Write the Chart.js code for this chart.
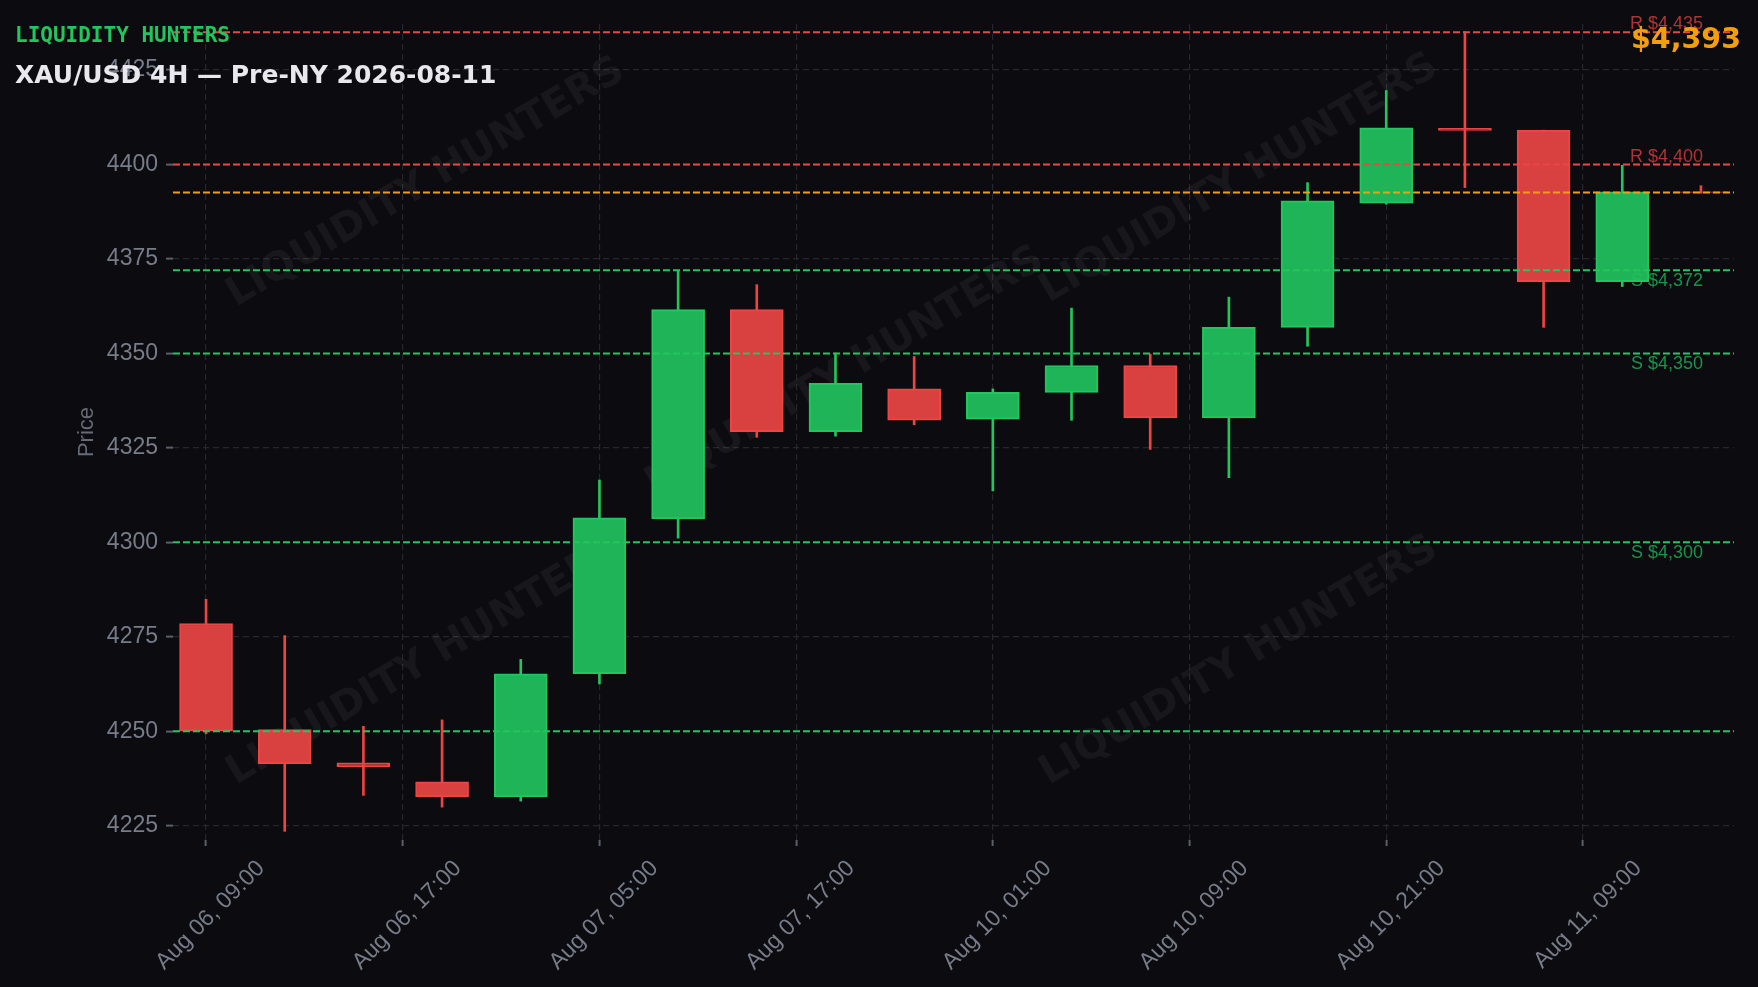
<!DOCTYPE html>
<html>
<head>
<meta charset="utf-8">
<title>XAU/USD 4H</title>
<script src="https://cdn.jsdelivr.net/npm/chart.js@4.4.1/dist/chart.umd.min.js"></script>
<style>
  html, body { margin: 0; padding: 0; background: #0b0b10; }
  canvas { display: block; }
</style>
</head>
<body>
<canvas id="grafico" width="1758" height="987"></canvas>
<script>
// Velas 4H (hora de abertura)
const candleTimes = [
    'Aug 06, 09:00', 'Aug 06, 13:00', 'Aug 06, 17:00', 'Aug 06, 21:00',
    'Aug 07, 01:00', 'Aug 07, 05:00', 'Aug 07, 09:00', 'Aug 07, 13:00',
    'Aug 07, 17:00', 'Aug 07, 21:00', 'Aug 10, 01:00', 'Aug 10, 05:00',
    'Aug 10, 09:00', 'Aug 10, 13:00', 'Aug 10, 17:00', 'Aug 10, 21:00',
    'Aug 11, 01:00', 'Aug 11, 05:00', 'Aug 11, 09:00', 'Aug 11, 13:00'
];
const opens  = [4278.5, 4250.4, 4241.6, 4236.6, 4232.6, 4265.2, 4306.2, 4361.6, 4329.3, 4340.6,
                4332.6, 4339.7, 4346.8, 4332.9, 4356.9, 4389.8, 4409.6, 4409.1, 4369.0, 4392.8];
const highs  = [4284.9, 4275.3, 4251.3, 4253.0, 4269.0, 4316.5, 4372.0, 4368.2, 4350.1, 4349.2,
                4340.6, 4362.0, 4349.8, 4364.9, 4395.2, 4419.6, 4435.2, 4409.1, 4399.8, 4394.4];
const lows   = [4249.3, 4223.5, 4233.0, 4229.9, 4231.5, 4262.5, 4301.1, 4327.8, 4328.1, 4331.1,
                4313.6, 4332.3, 4324.6, 4317.1, 4351.9, 4389.5, 4393.9, 4356.9, 4367.7, 4392.4];
const closes = [4250.0, 4241.4, 4240.6, 4232.6, 4265.2, 4306.5, 4361.6, 4329.3, 4342.1, 4332.3,
                4339.7, 4346.8, 4332.9, 4356.9, 4390.4, 4409.7, 4409.0, 4369.0, 4392.8, 4392.6];

// Eixo X: posições (índice de vela) e rótulos
const tickIndex  = [0, 2.5, 5, 7.5, 10, 12.5, 15, 17.5];
const tickLabels = ['Aug 06, 09:00', 'Aug 06, 17:00', 'Aug 07, 05:00', 'Aug 07, 17:00',
                    'Aug 10, 01:00', 'Aug 10, 09:00', 'Aug 10, 21:00', 'Aug 11, 09:00'];

// Níveis de suporte / resistência
const levelPrices = [4435, 4400, 4372, 4350, 4300, 4250];
const levelTypes  = ['R', 'R', 'S', 'S', 'S', 'S'];
const levelTags   = ['R $4,435', 'R $4,400', 'S $4,372', 'S $4,350', 'S $4,300', ''];
const currentPrice = 4392.6;

const CORES = {
    fundo: '#0b0b10',
    alta: '#22c55e',
    altaFill: '#1fb458',
    baixa: '#ef4444',
    baixaFill: '#d94040',
    laranja: '#f59e0b',
    grade: '#25262e',
    texto: '#777c89'
};

const X_MIN = -0.42, X_MAX = 19.42;
const idx = candleTimes.map((t, i) => i);
const isUp = i => closes[i] >= opens[i];

const fundo = {
    id: 'fundo',
    beforeDraw(chart) {
        const ctx = chart.ctx;
        ctx.save();
        ctx.fillStyle = CORES.fundo;
        ctx.fillRect(0, 0, chart.width, chart.height);
        ctx.restore();
    }
};

// marca d'água
const marcaDagua = {
    id: 'marcaDagua',
    beforeDatasetsDraw(chart) {
        const ctx = chart.ctx, a = chart.chartArea;
        ctx.save();
        ctx.beginPath();
        ctx.rect(a.left, a.top, a.right - a.left, a.bottom - a.top);
        ctx.clip();
        ctx.fillStyle = 'rgba(255,255,255,0.05)';
        ctx.font = 'bold 40px "DejaVu Sans"';
        ctx.textAlign = 'center';
        ctx.textBaseline = 'middle';
        [[426, 183], [1239, 179], [845, 372], [426, 661], [1239, 661]].forEach(([x, y]) => {
            ctx.save();
            ctx.translate(x, y);
            ctx.rotate(-30.5 * Math.PI / 180);
            ctx.fillText('LIQUIDITY HUNTERS', 0, 0);
            ctx.restore();
        });
        ctx.restore();
    }
};

// rótulos dos níveis e títulos
const textos = {
    id: 'textos',
    afterDraw(chart) {
        const ctx = chart.ctx, a = chart.chartArea, y = chart.scales.y;
        ctx.save();
        ctx.font = '18px "Liberation Sans"';
        ctx.textAlign = 'left';
        levelPrices.forEach((p, i) => {
            if (!levelTags[i]) return;
            const py = y.getPixelForValue(p);
            if (levelTypes[i] === 'R') {
                ctx.fillStyle = 'rgba(239,68,68,0.72)';
                ctx.textBaseline = 'alphabetic';
                ctx.fillText(levelTags[i], a.right - 104, py - 3);
            } else {
                ctx.fillStyle = 'rgba(34,197,94,0.72)';
                ctx.textBaseline = 'top';
                ctx.fillText(levelTags[i], a.right - 103, py + 2);
            }
        });

        ctx.textBaseline = 'alphabetic';
        ctx.fillStyle = CORES.alta;
        ctx.font = 'bold 21px "DejaVu Sans Mono"';
        ctx.fillText('LIQUIDITY HUNTERS', 15, 42);
        ctx.fillStyle = '#e8e8ee';
        ctx.font = 'bold 25px "DejaVu Sans"';
        ctx.fillText('XAU/USD 4H \u2014 Pre-NY 2026-08-11', 15, 83);

        ctx.fillStyle = CORES.laranja;
        ctx.font = 'bold 28.5px "DejaVu Sans"';
        ctx.textAlign = 'right';
        ctx.fillText('$' + Math.round(currentPrice).toLocaleString('en-US'), 1741, 48);
        ctx.restore();
    }
};

const levelDatasets = levelPrices.map((p, i) => ({
    type: 'line',
    data: [{ x: X_MIN, y: p }, { x: X_MAX, y: p }],
    borderColor: levelTypes[i] === 'R' ? CORES.baixa : CORES.alta,
    borderWidth: 2,
    borderDash: [7, 3],
    pointRadius: 0,
    order: 0
}));

new Chart(document.getElementById('grafico'), {
    type: 'bar',
    data: {
        datasets: [
            ...levelDatasets,
            {
                type: 'line',
                data: [{ x: X_MIN, y: currentPrice }, { x: X_MAX, y: currentPrice }],
                borderColor: CORES.laranja,
                borderWidth: 2,
                borderDash: [7, 3],
                pointRadius: 0,
                order: 0
            },
            {
                label: 'Corpo',
                data: idx.map(i => ({ x: i, y: [opens[i], closes[i]] })),
                backgroundColor: c => isUp(c.dataIndex) ? CORES.altaFill : CORES.baixaFill,
                borderColor: c => isUp(c.dataIndex) ? CORES.alta : CORES.baixa,
                borderWidth: 2,
                borderSkipped: false,
                barThickness: 53,
                grouped: false,
                order: 1
            },
            {
                label: 'Pavio',
                data: idx.map(i => ({ x: i, y: [lows[i], highs[i]] })),
                backgroundColor: c => isUp(c.dataIndex) ? CORES.alta : CORES.baixa,
                borderWidth: 0,
                barThickness: 2,
                grouped: false,
                order: 2
            }
        ]
    },
    options: {
        responsive: false,
        animation: false,
        devicePixelRatio: 1,
        layout: { padding: { left: 74, right: 24, top: 24, bottom: 0 } },
        plugins: {
            legend: { display: false },
            tooltip: {
                callbacks: {
                    title: items => candleTimes[items[0].dataIndex] || '',
                    label: c => {
                        const i = c.dataIndex;
                        return `O ${opens[i]}  H ${highs[i]}  L ${lows[i]}  C ${closes[i]}`;
                    }
                }
            }
        },
        scales: {
            x: {
                type: 'linear',
                min: X_MIN,
                max: X_MAX,
                offset: false,
                afterBuildTicks: s => { s.ticks = tickIndex.map(v => ({ value: v })); },
                afterFit: s => { s.height = 147; },
                border: { display: false, dash: [6, 4] },
                grid: {
                    offset: false,
                    color: CORES.grade,
                    lineWidth: 1.2,
                    tickColor: '#5b5f6a',
                    tickLength: 6,
                    tickWidth: 2
                },
                ticks: {
                    autoSkip: false,
                    maxRotation: 45,
                    minRotation: 45,
                    labelOffset: 55,
                    padding: 9,
                    color: CORES.texto,
                    font: { family: '"Liberation Sans"', size: 23 },
                    callback: v => tickLabels[tickIndex.indexOf(v)]
                }
            },
            y: {
                min: 4221.2,
                max: 4437.2,
                afterFit: s => { s.width = 99; },
                border: { display: false, dash: [6, 4] },
                grid: {
                    color: CORES.grade,
                    lineWidth: 1.2,
                    tickColor: '#5b5f6a',
                    tickLength: 7,
                    tickWidth: 2
                },
                ticks: {
                    stepSize: 25,
                    includeBounds: false,
                    padding: 8,
                    color: CORES.texto,
                    font: { family: '"Liberation Sans"', size: 23 },
                    callback: v => String(v)
                },
                title: {
                    display: true,
                    text: 'Price',
                    color: '#666b78',
                    padding: 0,
                    font: { family: '"Liberation Sans"', size: 22 }
                }
            }
        }
    },
    plugins: [fundo, marcaDagua, textos]
});
</script>
</body>
</html>
